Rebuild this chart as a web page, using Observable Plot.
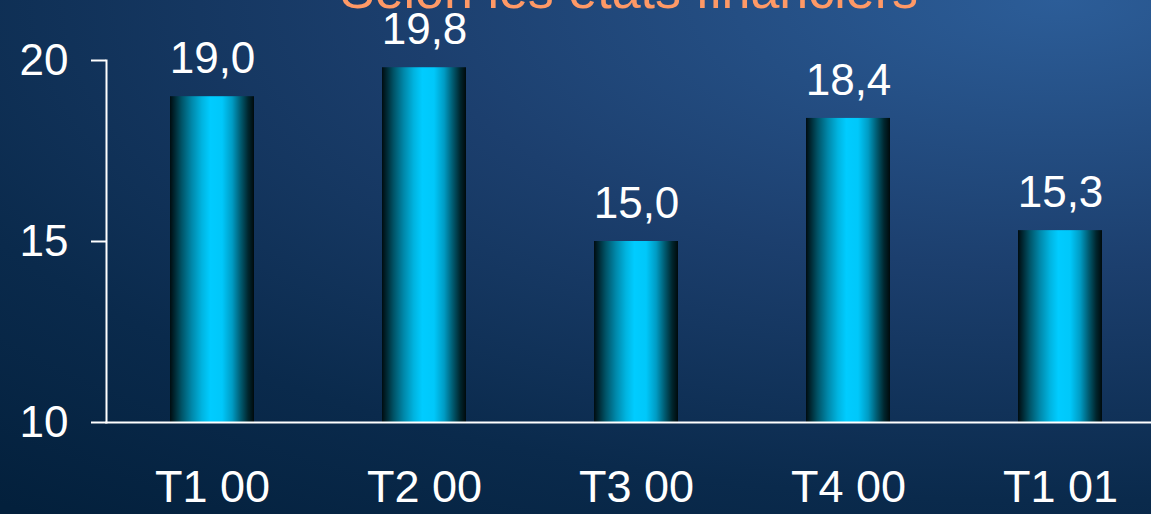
<!DOCTYPE html>
<html>
<head>
<meta charset="utf-8">
<script src="https://cdn.jsdelivr.net/npm/d3@7"></script>
<script src="https://cdn.jsdelivr.net/npm/@observablehq/plot@0.6"></script>
<style>
  html, body { margin: 0; padding: 0; width: 1151px; height: 514px; overflow: hidden; }
  body { background: radial-gradient(ellipse 140% 130% at 92% 0%, #2c5d98 0%, #1c3f6e 40%, #0a2a4c 75%, #03203c 100%); }
  #chart svg { display: block; }
</style>
</head>
<body>
<div id="chart"></div>
<script>
const title = "Selon les états financiers";
const categories = ["T1 00", "T2 00", "T3 00", "T4 00", "T1 01"];
const values = [19.0, 19.8, 15.0, 18.4, 15.3];
const labels = ["19,0", "19,8", "15,0", "18,4", "15,3"];
const yTicks = [10, 15, 20];

const data = categories.map((c, i) => ({cat: c, value: values[i], label: labels[i]}));
const font = "'Liberation Sans', Arial, sans-serif";

const chart = Plot.plot({
  width: 1151,
  height: 514,
  marginLeft: 106,
  marginRight: 0,
  marginTop: 60,
  marginBottom: 92,
  style: {background: "transparent", color: "white", fontFamily: font, overflow: "visible"},
  x: {domain: categories, paddingInner: 0.604, paddingOuter: 0.2665, align: 0.566, label: null},
  y: {domain: [10, 20], label: null},
  marks: [
    Plot.barY(data, {x: "cat", y1: 10, y2: "value", fill: "url(#barGrad)"}),
    Plot.text(data, {x: "cat", y: "value", text: "label", dy: -38, lineAnchor: "middle", fill: "white", fontSize: 44, fontFamily: font}),
    Plot.axisY(yTicks, {tickSize: 15, tickPadding: 23, fontSize: 44, stroke: "white", strokeWidth: 2, strokeOpacity: 1, fill: "white", fontFamily: font}),
    Plot.frame({anchor: "left", stroke: "white", strokeWidth: 2}),
    Plot.frame({anchor: "bottom", stroke: "white", strokeWidth: 2}),
    Plot.axisX({tickSize: 0, tickPadding: 48, fontSize: 45, fill: "white", fontFamily: font}),
    Plot.text([title], {frameAnchor: "top", dy: -53, lineAnchor: "bottom", fill: "#ff9966", fontSize: 52, fontFamily: font})
  ]
});

// gradient defs for bars
const svg = d3.select(chart);
const defs = svg.insert("defs", ":first-child");
const g = defs.append("linearGradient").attr("id", "barGrad").attr("x1", "0").attr("x2", "1").attr("y1", "0").attr("y2", "0");
[[0, "#000c10"], [0.06, "#002a35"], [0.14, "#005468"], [0.26, "#0088aa"], [0.38, "#00b4e0"], [0.48, "#00ccff"], [0.62, "#00c8fa"], [0.74, "#009cc4"], [0.84, "#005c72"], [0.93, "#00262e"], [1, "#000a0c"]]
  .forEach(([o, c]) => g.append("stop").attr("offset", o).attr("stop-color", c));

document.getElementById("chart").appendChild(chart);
</script>
</body>
</html>
